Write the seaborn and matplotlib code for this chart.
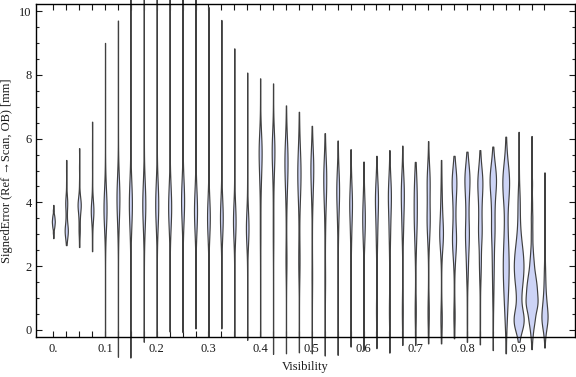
import numpy as np
import pandas as pd
import matplotlib
matplotlib.use("Agg")
import matplotlib.pyplot as plt
from matplotlib.ticker import MultipleLocator
import seaborn as sns

# Visibility bins (one violin each)
visibility = [0.0, 0.025, 0.05, 0.075, 0.1, 0.125, 0.15, 0.175, 0.2, 0.225,
              0.25, 0.275, 0.3, 0.325, 0.35, 0.375, 0.4, 0.425, 0.45, 0.475,
              0.5, 0.525, 0.55, 0.575, 0.6, 0.625, 0.65, 0.675, 0.7, 0.725,
              0.75, 0.775, 0.8, 0.825, 0.85, 0.875, 0.9, 0.925, 0.95]

# relative number of measurements per bin (sets how wide each violin is)
bin_weight = [11, 10, 10, 10, 7, 7, 7, 7, 7, 7,
              7, 7, 7, 7, 7, 7, 6, 6, 6, 6,
              6, 6, 6, 6, 6, 6, 6, 6, 6, 6,
              8, 8, 8, 8, 8, 8, 10, 12, 11]

# Signed error distribution per bin as (value [mm], count)
s00 = [(2.88, 1), (3.05, 2), (3.2, 3), (3.3, 4), (3.4, 5), (3.5, 4), (3.6, 3), (3.75, 2), (3.92, 1)]
s01 = [(2.66, 1), (2.85, 2), (3.0, 4), (3.15, 5), (3.3, 3), (3.5, 2), (3.7, 2), (3.9, 3), (4.05, 3), (4.25, 2), (4.6, 1), (5.0, 1), (5.33, 1)]
s02 = [(2.6, 1), (2.85, 1), (3.05, 2), (3.2, 2), (3.4, 2), (3.6, 3), (3.8, 5), (3.95, 5), (4.1, 4), (4.3, 2), (4.6, 1), (5.1, 1), (5.7, 1)]
s03 = [(2.47, 1), (2.8, 1), (3.1, 1), (3.35, 2), (3.55, 4), (3.75, 6), (3.95, 4), (4.2, 2), (4.6, 1), (5.2, 1), (5.8, 1), (6.53, 1)]
s04 = [(-0.21, 1), (0.6, 1), (1.4, 1), (2.2, 1), (2.8, 2), (3.2, 4), (3.5, 6), (3.8, 8), (4.1, 6), (4.4, 4), (4.8, 2), (5.4, 1), (6.2, 1), (7.1, 1), (8.0, 1), (9.0, 1)]
s05 = [(-0.84, 1), (0.2, 1), (1.2, 1), (2.1, 1), (2.9, 2), (3.4, 4), (3.8, 6), (4.15, 8), (4.5, 6), (4.9, 3), (5.5, 1), (6.3, 1), (7.2, 1), (8.1, 1), (9.0, 1), (9.7, 1)]
s06 = [(-0.88, 1), (0.2, 1), (1.2, 1), (2.2, 1), (2.9, 2), (3.3, 4), (3.7, 7), (4.0, 8), (4.3, 6), (4.7, 3), (5.3, 1), (6.2, 1), (7.2, 1), (8.3, 1), (9.4, 1), (10.4, 1), (11.2, 1)]
s07 = [(-0.37, 1), (0.5, 1), (1.4, 1), (2.3, 1), (2.9, 2), (3.3, 4), (3.7, 7), (4.0, 8), (4.3, 6), (4.7, 3), (5.3, 1), (6.2, 1), (7.2, 1), (8.3, 1), (9.4, 1), (10.4, 1), (11.2, 1)]
s08 = [(-0.21, 1), (0.7, 1), (1.6, 1), (2.4, 1), (3.0, 2), (3.4, 5), (3.75, 7), (4.05, 8), (4.35, 5), (4.7, 3), (5.3, 1), (6.2, 1), (7.2, 1), (8.3, 1), (9.4, 1), (10.4, 1), (11.2, 1)]
s09 = [(-0.05, 1), (0.8, 1), (1.7, 1), (2.5, 1), (3.0, 2), (3.4, 5), (3.7, 7), (3.95, 8), (4.25, 5), (4.6, 3), (5.2, 1), (6.1, 1), (7.1, 1), (8.2, 1), (9.3, 1), (10.3, 1), (11.2, 1)]
s10 = [(-0.07, 1), (0.8, 1), (1.7, 1), (2.5, 1), (3.1, 2), (3.5, 4), (3.85, 7), (4.1, 8), (4.4, 6), (4.8, 3), (5.4, 1), (6.3, 1), (7.3, 1), (8.3, 1), (9.4, 1), (10.4, 1), (11.2, 1)]
s11 = [(0.05, 1), (0.9, 1), (1.7, 1), (2.4, 1), (2.9, 2), (3.25, 4), (3.55, 7), (3.8, 8), (4.1, 6), (4.5, 3), (5.1, 1), (6.0, 1), (7.0, 1), (8.1, 1), (9.2, 1), (10.2, 1), (11.2, 1)]
s12 = [(-0.21, 1), (0.6, 1), (1.4, 1), (2.2, 1), (2.8, 2), (3.1, 4), (3.35, 6), (3.6, 7), (3.85, 5), (4.2, 3), (4.8, 1), (5.7, 1), (6.7, 1), (7.8, 1), (9.0, 1), (10.13, 1)]
s13 = [(0.05, 1), (0.9, 1), (1.7, 1), (2.4, 1), (2.8, 2), (3.1, 4), (3.35, 6), (3.6, 7), (3.85, 5), (4.2, 3), (4.8, 1), (5.7, 1), (6.7, 1), (7.7, 1), (8.8, 1), (9.72, 1)]
s14 = [(-0.21, 1), (0.6, 1), (1.4, 1), (2.1, 1), (2.6, 2), (2.95, 4), (3.25, 6), (3.5, 7), (3.8, 5), (4.2, 2), (4.8, 1), (5.6, 1), (6.5, 1), (7.6, 1), (8.83, 1)]
s15 = [(-0.31, 1), (0.5, 1), (1.3, 1), (2.0, 1), (2.5, 2), (2.8, 4), (3.05, 6), (3.3, 7), (3.6, 5), (4.0, 2), (4.6, 1), (5.3, 1), (6.1, 1), (7.0, 1), (8.07, 1)]
s16 = [(-0.21, 1), (0.6, 1), (1.4, 1), (2.1, 1), (2.7, 2), (3.2, 2), (3.7, 2), (4.2, 2), (4.6, 4), (5.0, 6), (5.4, 8), (5.75, 8), (6.1, 5), (6.5, 2), (7.1, 1), (7.89, 1)]
s17 = [(-0.75, 1), (0.2, 1), (1.1, 1), (1.9, 1), (2.6, 2), (3.1, 2), (3.6, 2), (4.2, 2), (4.7, 3), (5.1, 5), (5.45, 7), (5.75, 7), (6.05, 5), (6.4, 2), (7.0, 1), (7.73, 1)]
s18 = [(-0.73, 1), (0.2, 1), (1.1, 1), (1.8, 2), (2.2, 3), (2.6, 2), (3.1, 1), (3.6, 2), (4.1, 3), (4.5, 5), (4.9, 7), (5.3, 8), (5.65, 6), (6.0, 4), (6.4, 2), (7.04, 1)]
s19 = [(-0.7, 1), (0.2, 1), (1.0, 1), (1.6, 2), (2.0, 3), (2.4, 3), (2.8, 2), (3.3, 2), (3.8, 3), (4.2, 5), (4.6, 7), (5.0, 8), (5.4, 6), (5.8, 4), (6.3, 2), (6.84, 1)]
s20 = [(-0.73, 1), (0.2, 1), (1.0, 1), (1.5, 2), (1.9, 2), (2.4, 1), (3.0, 1), (3.6, 2), (4.1, 4), (4.5, 6), (4.9, 8), (5.25, 8), (5.6, 5), (6.0, 2), (6.4, 1)]
s21 = [(-0.8, 1), (0.1, 1), (0.9, 1), (1.4, 2), (1.8, 2), (2.3, 1), (2.9, 2), (3.4, 3), (3.9, 5), (4.3, 7), (4.7, 8), (5.05, 7), (5.4, 4), (5.8, 2), (6.17, 1)]
s22 = [(-0.78, 1), (0.1, 1), (0.9, 1), (1.6, 1), (2.2, 1), (2.8, 2), (3.2, 3), (3.6, 5), (4.0, 7), (4.35, 8), (4.7, 7), (5.05, 4), (5.45, 2), (5.94, 1)]
s23 = [(-0.52, 1), (0.3, 1), (1.1, 1), (1.8, 1), (2.4, 2), (2.8, 3), (3.2, 5), (3.6, 7), (3.95, 8), (4.3, 7), (4.7, 4), (5.1, 2), (5.67, 1)]
s24 = [(-0.63, 1), (0.2, 1), (1.0, 1), (1.7, 1), (2.3, 2), (2.7, 4), (3.05, 6), (3.4, 8), (3.75, 7), (4.1, 5), (4.5, 3), (4.9, 1), (5.28, 1)]
s25 = [(-0.57, 1), (0.2, 2), (0.6, 3), (1.0, 2), (1.5, 1), (2.1, 2), (2.6, 3), (3.0, 4), (3.4, 5), (3.8, 7), (4.15, 8), (4.5, 6), (4.9, 3), (5.46, 1)]
s26 = [(-0.71, 1), (0.2, 2), (0.6, 3), (1.0, 2), (1.6, 1), (2.2, 2), (2.7, 3), (3.1, 4), (3.5, 5), (3.9, 7), (4.25, 8), (4.6, 6), (5.0, 3), (5.64, 1)]
s27 = [(-0.47, 1), (0.2, 2), (0.6, 3), (1.0, 2), (1.6, 1), (2.3, 1), (2.8, 3), (3.2, 4), (3.6, 6), (4.0, 7), (4.35, 8), (4.7, 6), (5.1, 3), (5.78, 1)]
s28 = [(-0.47, 1), (0.2, 2), (0.6, 3), (1.0, 2), (1.6, 1), (2.2, 2), (2.6, 3), (3.0, 5), (3.4, 7), (3.8, 7), (4.2, 7), (4.6, 6), (5.0, 3), (5.27, 1)]
s29 = [(-0.42, 1), (0.2, 2), (0.55, 3), (0.9, 2), (1.5, 1), (2.2, 1), (2.7, 3), (3.1, 5), (3.45, 7), (3.8, 5), (4.2, 5), (4.6, 7), (4.95, 5), (5.3, 2), (5.92, 1)]
s30 = [(-0.42, 1), (0.1, 2), (0.35, 3), (0.7, 2), (1.3, 1), (1.9, 1), (2.4, 3), (2.75, 6), (3.05, 8), (3.4, 6), (3.8, 4), (4.2, 3), (4.6, 2), (5.0, 1), (5.33, 1)]
s31 = [(-0.26, 1), (0.3, 2), (0.6, 2), (1.1, 1), (1.6, 1), (2.1, 3), (2.5, 5), (2.85, 7), (3.2, 5), (3.6, 4), (4.0, 5), (4.4, 7), (4.75, 8), (5.1, 4), (5.46, 1)]
s32 = [(-0.37, 1), (0.3, 1), (0.9, 1), (1.5, 2), (1.9, 3), (2.3, 4), (2.7, 6), (3.1, 7), (3.5, 5), (3.9, 5), (4.3, 7), (4.7, 9), (5.05, 6), (5.35, 2), (5.59, 1)]
s33 = [(-0.45, 1), (0.3, 1), (0.9, 1), (1.5, 2), (1.9, 3), (2.3, 4), (2.8, 6), (3.2, 7), (3.6, 5), (3.95, 5), (4.3, 7), (4.65, 9), (5.0, 6), (5.35, 2), (5.64, 1)]
s34 = [(-0.63, 1), (0.2, 1), (0.8, 2), (1.3, 3), (1.8, 4), (2.3, 5), (2.8, 6), (3.2, 7), (3.6, 6), (4.0, 7), (4.4, 10), (4.75, 12), (5.1, 8), (5.45, 3), (5.75, 1)]
s35 = [(-0.73, 1), (0.0, 2), (0.5, 4), (1.0, 6), (1.5, 8), (2.0, 9), (2.5, 8), (3.0, 6), (3.5, 5), (4.0, 6), (4.4, 8), (4.8, 9), (5.2, 5), (5.6, 2), (6.06, 1)]
s36 = [(-0.37, 1), (0.0, 5), (0.2, 8), (0.4, 8), (0.6, 5), (0.85, 4), (1.2, 7), (1.6, 11), (2.0, 13), (2.4, 11), (2.8, 7), (3.2, 4), (3.6, 3), (4.0, 3), (4.4, 2), (4.9, 1), (5.5, 1), (6.21, 1)]
s37 = [(-0.6, 1), (-0.1, 4), (0.3, 10), (0.7, 15), (1.0, 16), (1.35, 15), (1.7, 11), (2.1, 7), (2.5, 4), (3.0, 3), (3.5, 3), (4.0, 2), (4.6, 2), (5.3, 1), (6.08, 1)]
s38 = [(-0.55, 1), (-0.1, 4), (0.2, 9), (0.45, 11), (0.75, 9), (1.1, 6), (1.5, 4), (1.9, 3), (2.4, 2), (3.0, 1), (3.7, 1), (4.3, 1), (4.94, 1)]

samples = [s00, s01, s02, s03, s04, s05, s06, s07, s08, s09, s10, s11, s12,
           s13, s14, s15, s16, s17, s18, s19, s20, s21, s22, s23, s24, s25,
           s26, s27, s28, s29, s30, s31, s32, s33, s34, s35, s36, s37, s38]

xtick_labels = ["0.", "0.1", "0.2", "0.3", "0.4", "0.5", "0.6", "0.7", "0.8", "0.9"]
ytick_values = [0, 2, 4, 6, 8, 10]

# long-form table for seaborn
rows = []
for vis, pairs, w in zip(visibility, samples, bin_weight):
    vals = np.repeat([p[0] for p in pairs], [p[1] * w for p in pairs])
    rows.append(pd.DataFrame({"visibility": vis, "error": vals}))
df = pd.concat(rows, ignore_index=True)

sns.set_style("ticks")
plt.rcParams["font.family"] = ["Liberation Serif", "DejaVu Serif"]
plt.rcParams["font.size"] = 9

fig = plt.figure(figsize=(5.76, 3.77), dpi=100)
ax = fig.add_axes([36 / 576, 40 / 377, 539 / 576, 333 / 377])

sns.violinplot(data=df, x="visibility", y="error", native_scale=True, orient="x",
               density_norm="count", cut=0, inner=None, bw_adjust=0.75, width=0.93,
               color="#cdd4f6", saturation=1, linecolor="#404040", linewidth=0.85, ax=ax)

for coll in ax.collections:
    coll.set_clip_on(False)

ax.set_xlim(-0.0335, 1.009)
ax.set_ylim(-0.22, 10.22)

# frame ticks like the original: inside, on all four sides
ax.set_xticks(visibility)
ax.set_xticklabels([xtick_labels[i // 4] if i % 4 == 0 else "" for i in range(len(visibility))])
ax.set_yticks(ytick_values)
ax.set_yticklabels([str(v) for v in ytick_values])
ax.yaxis.set_minor_locator(MultipleLocator(0.5))
ax.tick_params(axis="x", which="major", direction="in", length=4.5, width=0.8,
               top=True, pad=4, labelsize=9, colors="#1a1a1a")
ax.tick_params(axis="y", which="major", direction="in", length=4.5, width=0.8,
               right=True, pad=3, labelsize=9, colors="#1a1a1a")
ax.tick_params(axis="y", which="minor", direction="in", length=2.5, width=0.8, right=True)
for sp in ax.spines.values():
    sp.set_visible(True)
    sp.set_linewidth(1.0)
    sp.set_color("black")

ax.set_xlabel("Visibility", fontsize=9, color="#1a1a1a")
ax.set_ylabel("SignedError (Ref →Scan, OB) [mm]", fontsize=9, color="#1a1a1a")
ax.xaxis.set_label_coords(0.5, -0.072)
ax.yaxis.set_label_coords(-0.043, 0.5)

fig.savefig("out.png", dpi=100)
